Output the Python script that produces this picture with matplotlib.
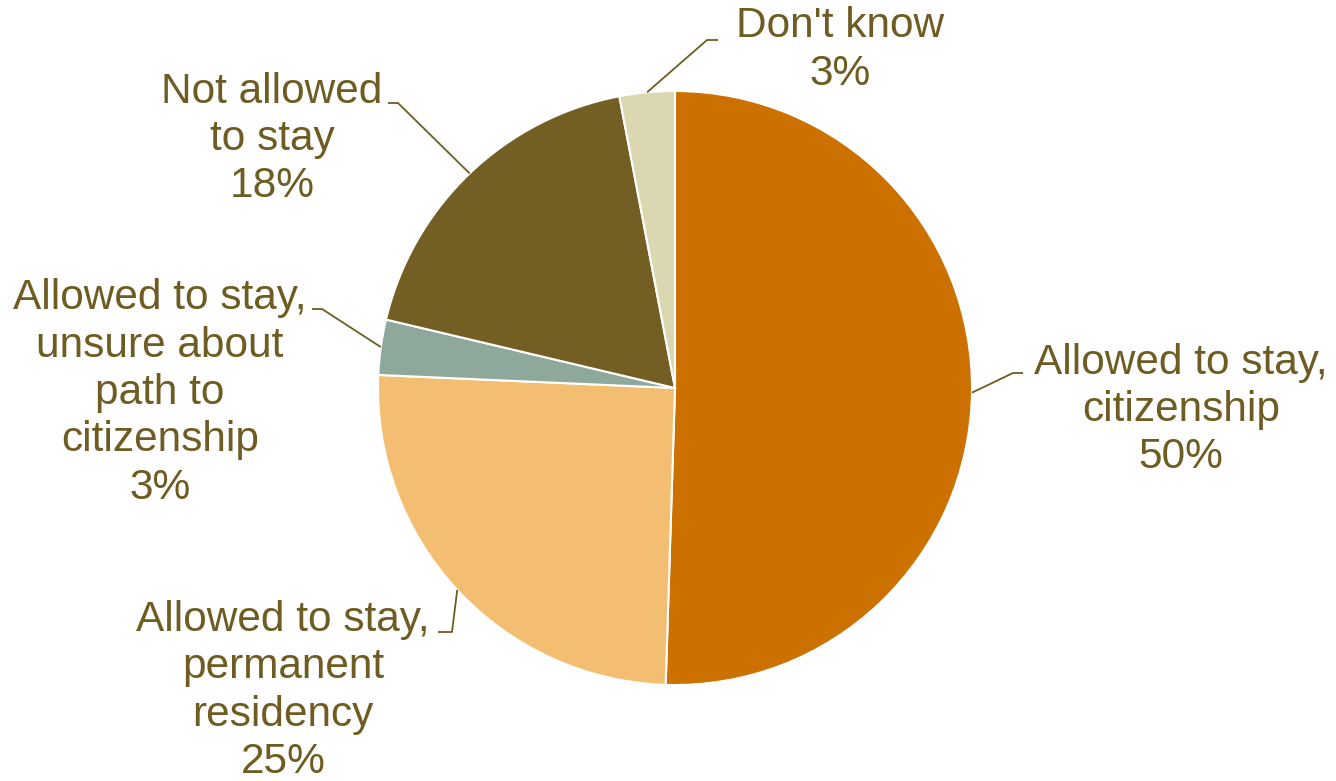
import numpy as np
import matplotlib
matplotlib.use("Agg")
import matplotlib.pyplot as plt

# -----------------------------
# Данные
# -----------------------------
labels = [
    "Allowed to stay,\ncitizenship",
    "Allowed to stay,\npermanent\nresidency",
    "Allowed to stay,\nunsure about\npath to\ncitizenship",
    "Not allowed\nto stay",
    "Don't know",
]
shares = [50.5, 25.2, 3.0, 18.3, 3.0]
pct_text = [50, 25, 3, 18, 3]
colors = ["#CC7000", "#F4BE72", "#8EA89B", "#735E23", "#DAD7B1"]

text_color = "#6E5C22"

# позиции подписей (в пикселях) и точки излома выносок
label_px = [(1181, 410), (283, 691), (160, 393), (272, 139), (840, 50)]
elbow_px = [(1013, 373), (452, 632), (322, 309), (398, 103), (707, 40)]
end_px = [(1023, 373), (438, 632), (312, 309), (388, 103), (718, 40)]

W, H = 1336, 781
cx, cy, R = 675, 388, 297


def to_data(p):
    return ((p[0] - cx) / R, (cy - p[1]) / R)


plt.rcParams["font.family"] = ["Liberation Sans", "DejaVu Sans"]

fig = plt.figure(figsize=(W / 100, H / 100), dpi=100)
ax = fig.add_axes([0, 0, 1, 1])

wedges, _ = ax.pie(
    shares, colors=colors, startangle=90, counterclock=False, radius=1,
    wedgeprops=dict(edgecolor="white", linewidth=1.5),
)

ax.set_xlim(-cx / R, (W - cx) / R)
ax.set_ylim((cy - H) / R, cy / R)
ax.axis("off")

for i, w in enumerate(wedges):
    ang = np.deg2rad((w.theta1 + w.theta2) / 2)
    x0, y0 = np.cos(ang), np.sin(ang)
    ex, ey = to_data(elbow_px[i])
    tx, ty = to_data(end_px[i])
    ax.plot([x0, ex, tx], [y0, ey, ty], color=text_color, lw=1.3,
            solid_capstyle="butt")
    lx, ly = to_data(label_px[i])
    ax.text(lx, ly, f"{labels[i]}\n{pct_text[i]}%", ha="center", va="center",
            fontsize=30.5, color=text_color, linespacing=1.24)

fig.savefig("out.png", dpi=100)
